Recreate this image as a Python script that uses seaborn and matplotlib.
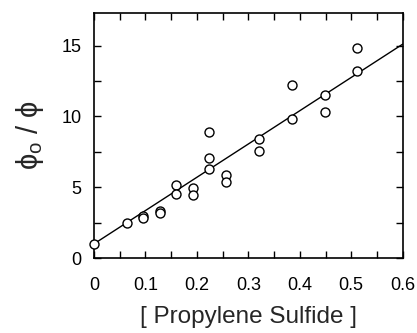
import matplotlib
matplotlib.use('Agg')
import matplotlib.pyplot as plt
import numpy as np
import pandas as pd
import seaborn as sns

sns.set_style('ticks')
plt.rcParams['font.family'] = ['Liberation Sans', 'DejaVu Sans']
plt.rcParams['mathtext.fontset'] = 'custom'
plt.rcParams['mathtext.rm'] = 'Liberation Sans'
plt.rcParams['mathtext.it'] = 'Liberation Sans'

# data
conc = [0.0, 0.064, 0.096, 0.096, 0.128, 0.128, 0.160, 0.160, 0.192, 0.192,
        0.224, 0.224, 0.224, 0.256, 0.256, 0.321, 0.321, 0.384, 0.384,
        0.449, 0.449, 0.512, 0.512]
ratio = [1.0, 2.45, 3.0, 2.83, 3.33, 3.16, 5.19, 4.53, 4.91, 4.46,
         8.92, 7.03, 6.25, 5.85, 5.40, 8.40, 7.55, 12.24, 9.81,
         11.49, 10.33, 14.86, 13.21]
fit_x = [0.0, 0.6]
fit_y = [1.0, 15.1]

df = pd.DataFrame({'conc': conc, 'ratio': ratio})
fit = pd.DataFrame({'conc': fit_x, 'ratio': fit_y})

fig = plt.figure(figsize=(4.17, 3.33), dpi=100)
ax = fig.add_axes([0.2254, 0.2252, 0.7403, 0.7358])

sns.lineplot(data=fit, x='conc', y='ratio', ax=ax, color='black', lw=1)
sns.scatterplot(data=df, x='conc', y='ratio', ax=ax, marker='o', s=42,
                facecolor='white', edgecolor='black', linewidth=1, zorder=3,
                clip_on=False)

ax.set_xlim(0, 0.6)
ax.set_ylim(0, 17.3)
ax.set_xticks([0, 0.1, 0.2, 0.3, 0.4, 0.5, 0.6])
ax.set_xticklabels(['0', '0.1', '0.2', '0.3', '0.4', '0.5', '0.6'])
ax.set_xticks(np.arange(0.05, 0.6, 0.1), minor=True)
ax.set_yticks([0, 5, 10, 15])
ax.set_yticks([2.5, 7.5, 12.5], minor=True)
ax.tick_params(which='both', direction='in', top=True, right=True,
               length=5, width=1, labelsize=13, colors='black')
ax.tick_params(axis='x', which='both', pad=14)
ax.tick_params(axis='y', which='both', pad=9)
for s in ax.spines.values():
    s.set_linewidth(1.2)
    s.set_color('black')

ax.set_xlabel('[ Propylene Sulfide ]', fontsize=17.5, labelpad=8)
ax.set_ylabel(r'$\phi_{\rm o}$ / $\phi$', fontsize=21, labelpad=11)

fig.savefig('out.png', dpi=100)
